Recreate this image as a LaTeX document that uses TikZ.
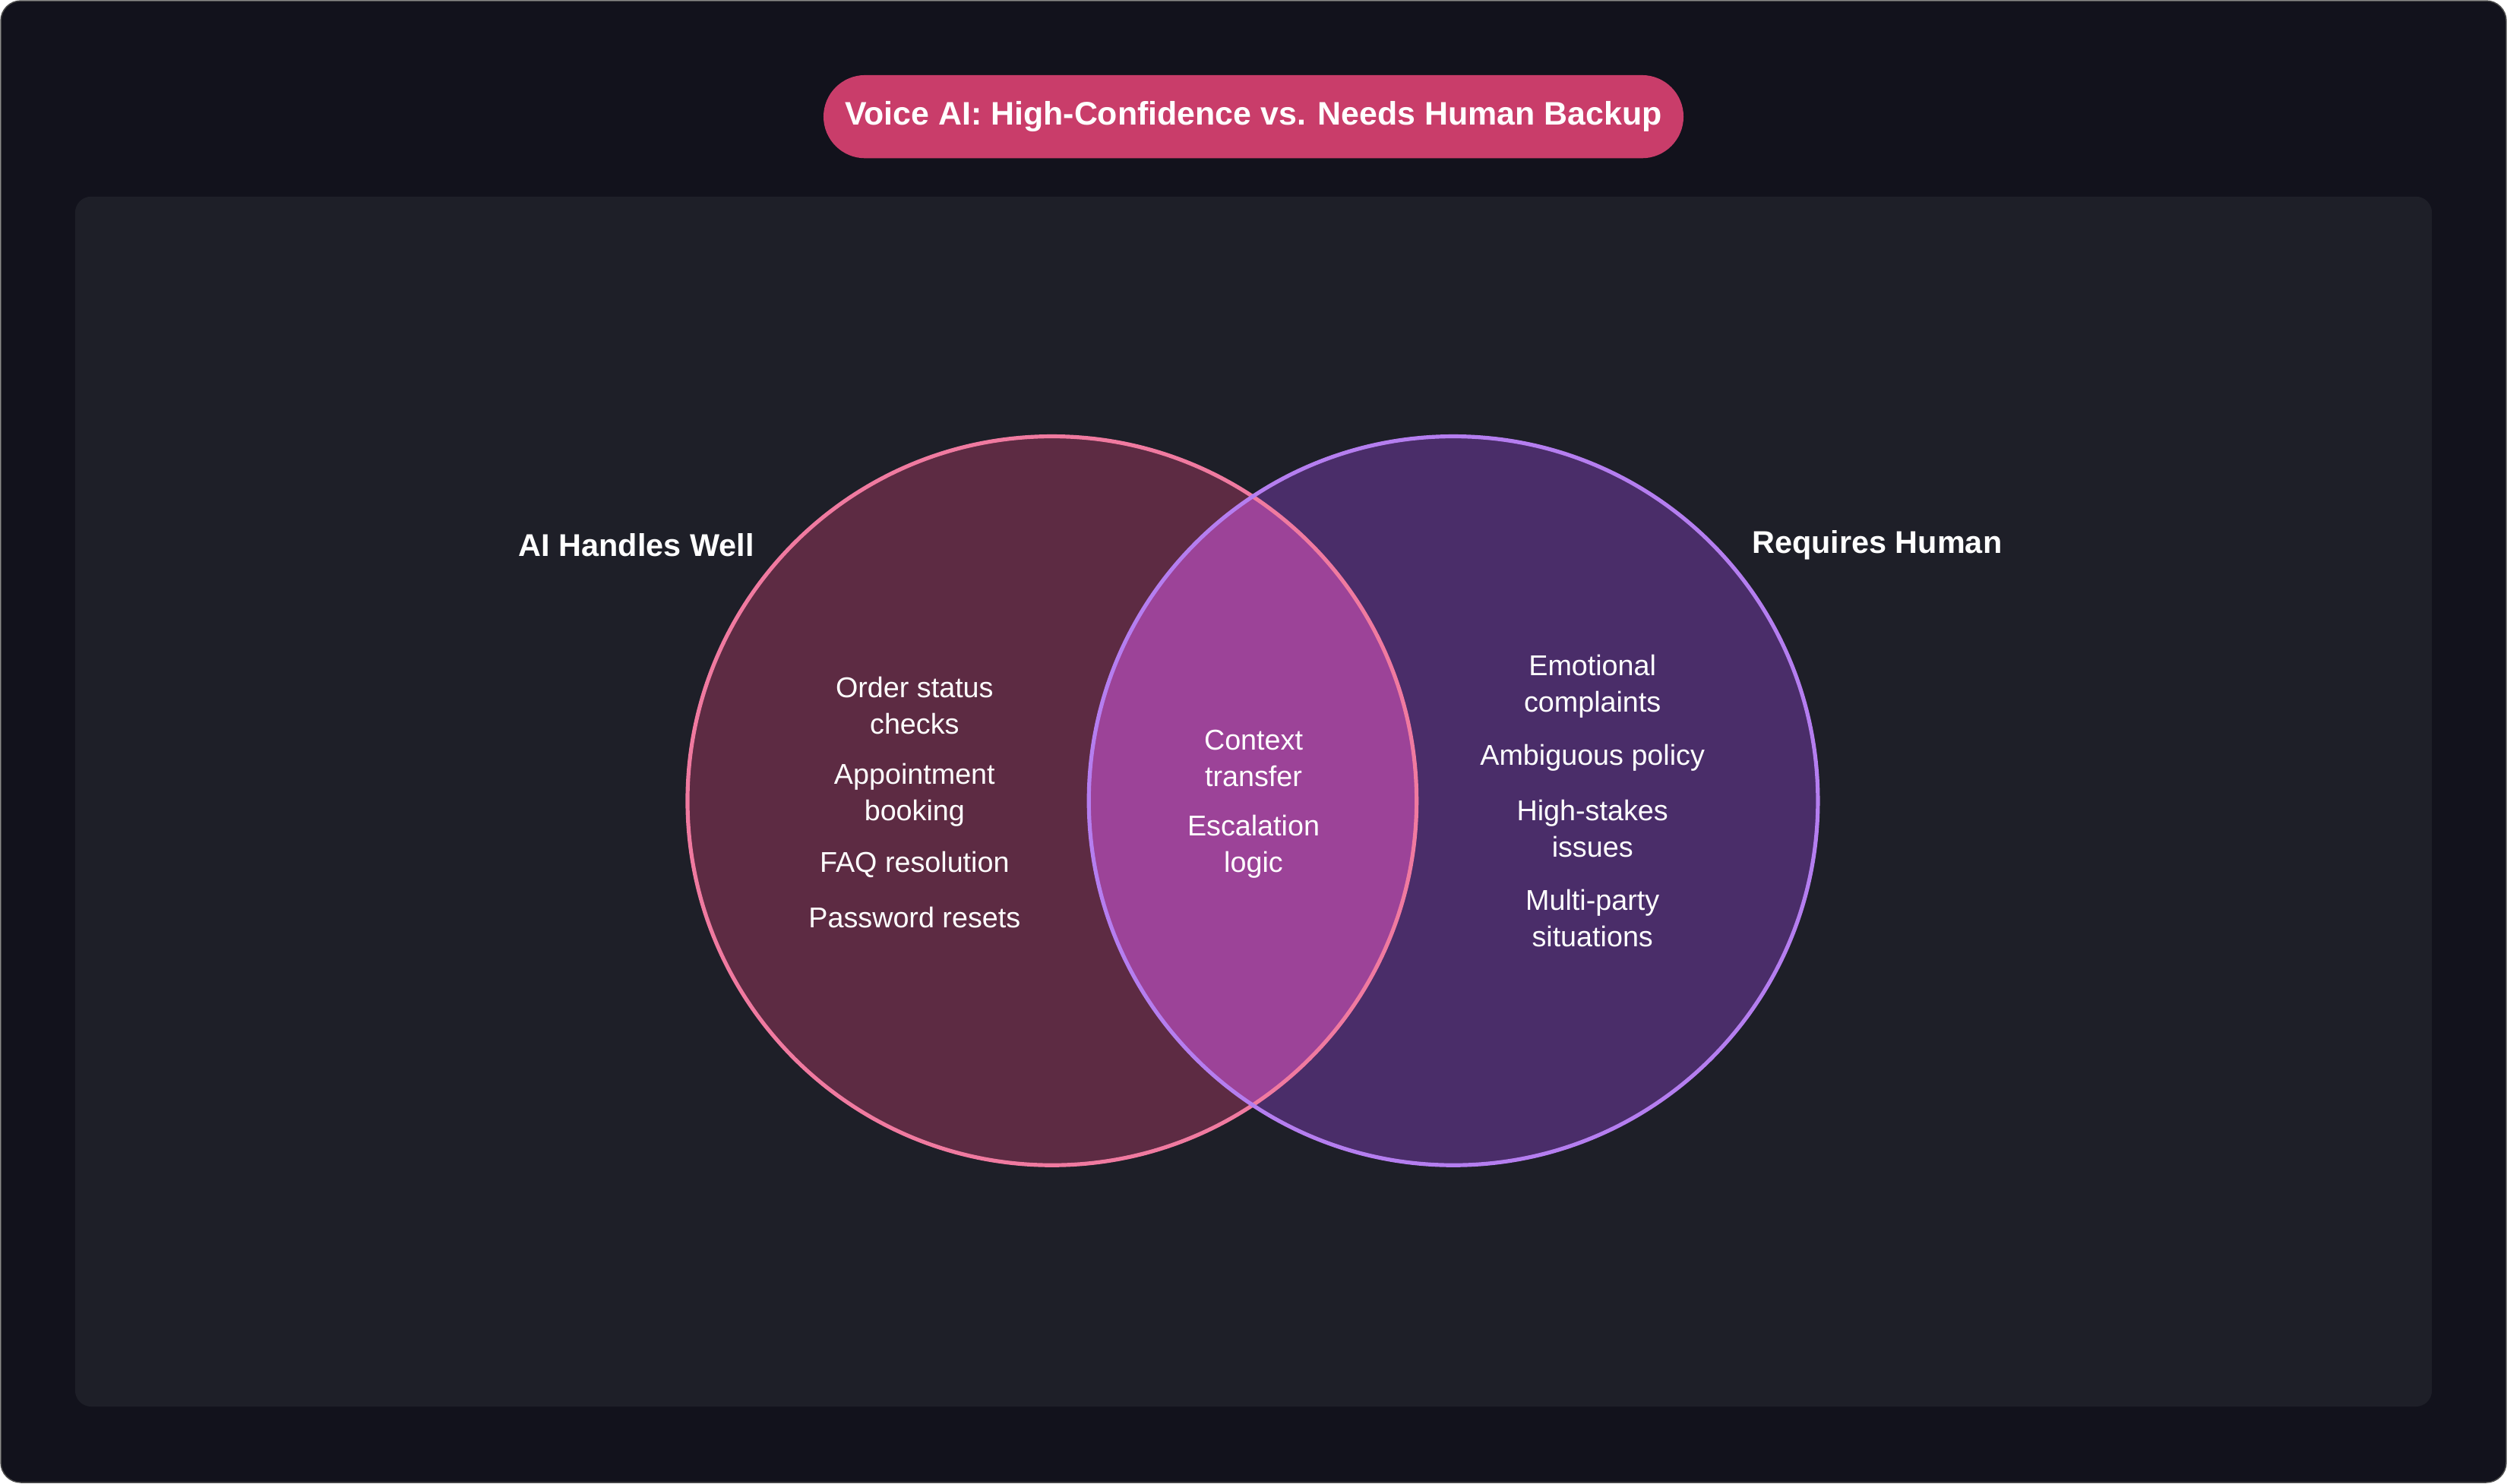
\documentclass[tikz,border=0pt]{standalone}
\usepackage{fontspec}
\setmainfont{Liberation Sans}
\usetikzlibrary{positioning}
\definecolor{pagebg}{HTML}{12121C}
\definecolor{panelbg}{HTML}{1E1F28}
\definecolor{titlepink}{HTML}{C93D6A}
\definecolor{aifill}{HTML}{5D2B43}
\definecolor{aiedge}{HTML}{F07AA0}
\definecolor{humanfill}{HTML}{4A2D69}
\definecolor{humanedge}{HTML}{B57EF0}
\definecolor{bothfill}{HTML}{9C4398}
\begin{document}
\begin{tikzpicture}[
    x=0.02cm, y=-0.02cm,
    % Styles
    item/.style={text=white, align=center, font=\fontsize{10.2}{13}\selectfont},
    setlabel/.style={text=white, font=\fontsize{11.2}{13}\selectfont\bfseries},
    title/.style={fill=titlepink, text=white, rounded corners=0.52cm, minimum width=10.76cm, minimum height=1.04cm, font=\fontsize{11.6}{14}\selectfont\bfseries},
]

% Background and panel
\useasboundingbox (0,0) rectangle (1568,928);
\fill[pagebg, draw=gray!60!black, rounded corners=0.25cm] (0.5,0.5) rectangle (1567.5,927.5);
\fill[panelbg, rounded corners=0.2cm] (47,123) rectangle (1521,880);

% Title
\node[title] (title) at (784,73) {Voice AI: High-Confidence vs. Needs Human Backup};

% Circles
\fill[aifill] (658,501) circle[radius=228];
\fill[humanfill] (909,501) circle[radius=228];
\begin{scope}
  \clip (658,501) circle[radius=228];
  \fill[bothfill] (909,501) circle[radius=228];
\end{scope}
\draw[aiedge, line width=1.4pt] (658,501) circle[radius=228];
\draw[humanedge, line width=1.4pt] (909,501) circle[radius=228];

% Set labels
\node[setlabel] (ailabel) at (398,341) {AI Handles Well};
\node[setlabel] (humanlabel) at (1174,341) {Requires Human};

% AI only
\node[item] (order) at (572,441.5) {Order status\\checks};
\node[item] (appt) at (572,497.5) {Appointment\\booking};
\node[item] (faq) at (572,541) {FAQ resolution};
\node[item] (pwd) at (572,574) {Password resets};

% Overlap
\node[item] (context) at (784,474.5) {Context\\transfer};
\node[item] (escal) at (784,529.5) {Escalation\\logic};

% Human only
\node[item] (emot) at (996,429.5) {Emotional\\complaints};
\node[item] (ambig) at (996,474) {Ambiguous policy};
\node[item] (stakes) at (996,518.5) {High-stakes\\issues};
\node[item] (multi) at (996,574.5) {Multi-party\\situations};

\end{tikzpicture}
\end{document}
